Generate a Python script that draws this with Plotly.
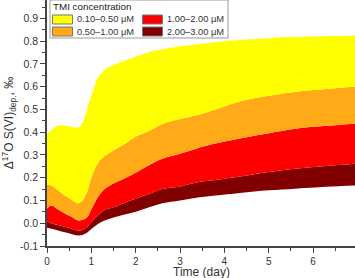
import plotly.graph_objects as go

time_day = [0, 0.1, 0.25, 0.4, 0.55, 0.7, 0.8, 0.9, 1.0, 1.15, 1.3, 1.5, 1.75, 2.0, 2.3, 2.6,
            3.0, 3.4, 3.8, 4.35, 5.0, 5.6, 6.3, 7.0]

lower_bound = [-0.02, -0.024, -0.032, -0.04, -0.047, -0.054, -0.052, -0.042, -0.025, -0.003, 0.012,
               0.025, 0.038, 0.05, 0.07, 0.088, 0.1, 0.113, 0.122, 0.133, 0.145, 0.152, 0.16, 0.166]
top_2_3 = [0.008, 0.0, -0.008, -0.015, -0.024, -0.032, -0.03, -0.018, 0.005, 0.034, 0.058,
           0.07, 0.09, 0.108, 0.128, 0.15, 0.162, 0.18, 0.19, 0.205, 0.225, 0.24, 0.252, 0.262]
top_1_2 = [0.065, 0.078, 0.06, 0.043, 0.028, 0.012, 0.015, 0.025, 0.06, 0.115, 0.15,
           0.175, 0.197, 0.222, 0.255, 0.283, 0.305, 0.33, 0.35, 0.372, 0.395, 0.415, 0.428, 0.438]
top_05_1 = [0.17, 0.166, 0.145, 0.122, 0.104, 0.087, 0.1, 0.135, 0.2, 0.265, 0.295,
            0.32, 0.348, 0.38, 0.405, 0.436, 0.458, 0.476, 0.5, 0.535, 0.56, 0.577, 0.59, 0.6]
top_01_05 = [0.39, 0.41, 0.43, 0.428, 0.424, 0.42, 0.44, 0.5, 0.56, 0.64, 0.675,
             0.695, 0.715, 0.732, 0.752, 0.765, 0.778, 0.787, 0.795, 0.805, 0.813, 0.819, 0.822, 0.825]

labels = ["0.10–0.50 μM", "0.50–1.00 μM", "1.00–2.00 μM", "2.00–3.00 μM"]
colors = ["#FFFF00", "#FFAA16", "#FF0000", "#800000"]
legend_title = "TMI concentration"
x_title = "Time (day)"

W, H = 355, 278
ML, MR, MT, MB = 47, 0, 0, 32
PW, PH = W - ML - MR, H - MT - MB


def px(x):
    return (x - ML) / PW


def py(y):
    return (H - MB - y) / PH


fig = go.Figure()
fig.add_trace(go.Scatter(x=time_day, y=lower_bound, mode="lines", line=dict(width=0, shape="spline"),
                         showlegend=False, hoverinfo="skip"))
bands = [(top_2_3, 3), (top_1_2, 2), (top_05_1, 1), (top_01_05, 0)]
for ys, idx in bands:
    fig.add_trace(go.Scatter(x=time_day, y=ys, mode="lines", fill="tonexty",
                             fillcolor=colors[idx], line=dict(width=0, shape="spline", color=colors[idx]),
                             name=labels[idx], showlegend=False))

# legend box drawn in paper space (two columns, like the reference)
shapes = [dict(type="rect", xref="paper", yref="paper", x0=px(50), x1=px(228), y0=py(38), y1=py(0),
               fillcolor="rgba(255,255,255,0.92)", line=dict(color="#999999", width=1), layer="above")]
annotations = [dict(text=legend_title, xref="paper", yref="paper", x=px(51), y=py(6.5),
                    xanchor="left", yanchor="middle", showarrow=False,
                    font=dict(size=9.8, color="#222"))]
slots = [(52.5, 19.5), (52.5, 31.5), (142.5, 19.5), (142.5, 31.5)]
for i, (sx, sy) in enumerate(slots):
    shapes.append(dict(type="rect", xref="paper", yref="paper", x0=px(sx), x1=px(sx + 20),
                       y0=py(sy + 4.5), y1=py(sy - 4.5), fillcolor=colors[i],
                       line=dict(color="#777777", width=1), layer="above"))
    annotations.append(dict(text=labels[i], xref="paper", yref="paper", x=px(sx + 22), y=py(sy),
                            xanchor="left", yanchor="middle", showarrow=False,
                            font=dict(size=9.3, color="#333")))
# x-axis title
annotations.append(dict(text=x_title, xref="paper", yref="paper", x=0.503, y=py(272),
                        xanchor="center", yanchor="middle", showarrow=False,
                        font=dict(size=12, color="#333")))

axis_color = "#444444"
fig.update_layout(
    width=W, height=H,
    margin=dict(l=ML, r=MR, t=MT, b=MB),
    paper_bgcolor="white", plot_bgcolor="white",
    font=dict(family="Liberation Sans, Arial", color="#333333", size=11),
    showlegend=False,
    shapes=shapes, annotations=annotations,
    xaxis=dict(range=[0, 6.946], tickvals=[0, 1, 2, 3, 4, 5, 6], showline=True, linecolor=axis_color,
               linewidth=1.5, ticks="outside", ticklen=5, tickwidth=1.2, tickcolor=axis_color,
               tickfont=dict(size=10), automargin=False,
               minor=dict(ticks="outside", ticklen=3, tickwidth=1, tickcolor=axis_color, dtick=0.5),
               showgrid=False, zeroline=False),
    yaxis=dict(range=[-0.1, 0.981], tickvals=[-0.1, 0, 0.1, 0.2, 0.3, 0.4, 0.5, 0.6, 0.7, 0.8, 0.9],
               ticktext=["-0.1", "0.0", "0.1", "0.2", "0.3", "0.4", "0.5", "0.6", "0.7", "0.8", "0.9"],
               showline=True, linecolor=axis_color, linewidth=1.5, ticks="outside", ticklen=5,
               tickwidth=1.2, tickcolor=axis_color, tickfont=dict(size=10.5),
               minor=dict(ticks="outside", ticklen=3, tickwidth=1, tickcolor=axis_color, dtick=0.05),
               showgrid=False, zeroline=False,
               title=dict(text="Δ<sup>17</sup>O S(VI)<sub>dep.</sub>, ‰", font=dict(size=12, color="#333"),
                          standoff=6)),
)

fig.write_html("out.html")
